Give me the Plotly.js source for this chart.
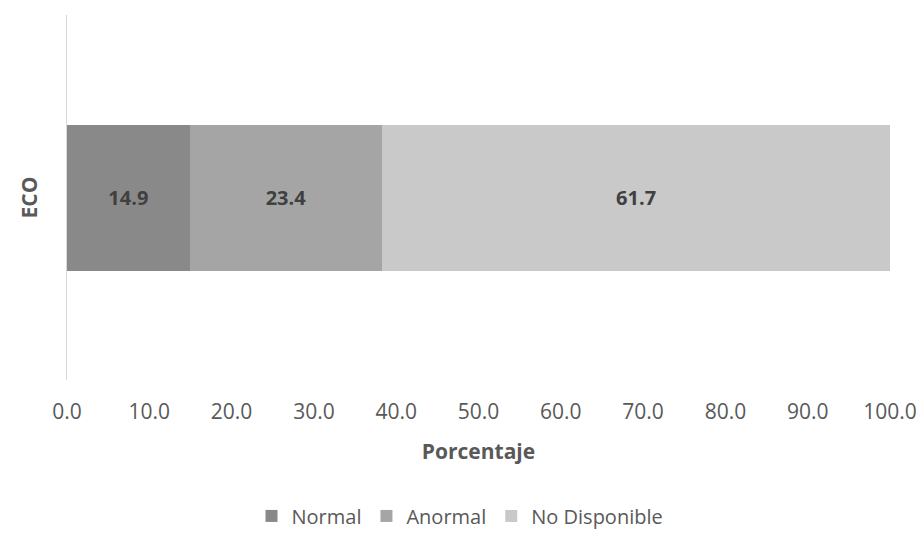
<!DOCTYPE html>
<html>
<head>
<meta charset="utf-8">
<script src="https://cdn.plot.ly/plotly-3.0.1.min.js"></script>
<style>
  html, body { margin: 0; padding: 0; background: #fff; }
  #chart { width: 920px; height: 533px; }
</style>
</head>
<body>
<div id="chart"></div>
<script>
// Distribution of ECO results (percent)
const categories = ['ECO'];
const seriesNames = ['Normal', 'Anormal', 'No Disponible'];
const normalValues = [14.9];
const anormalValues = [23.4];
const noDisponibleValues = [61.7];
const seriesColors = ['#898989', '#a5a5a5', '#c9c9c9'];
const xTickValues = [0, 10, 20, 30, 40, 50, 60, 70, 80, 90, 100];

const FONT = '"Open Sans", "Noto Sans", sans-serif';
const TEXT = '#595959';

const seriesValues = [normalValues, anormalValues, noDisponibleValues];

const traces = seriesNames.map((name, i) => ({
  type: 'bar',
  orientation: 'h',
  name: name,
  y: categories,
  x: seriesValues[i],
  marker: { color: seriesColors[i], line: { width: 0 } },
  width: 0.4,
  text: seriesValues[i].map(v => v.toFixed(1)),
  texttemplate: '<b>%{text}</b>',
  textposition: 'inside',
  insidetextanchor: 'middle',
  insidetextfont: { family: FONT, size: 20, color: '#404040' },
  hoverinfo: 'name+x'
}));

const layout = {
  width: 920,
  height: 533,
  barmode: 'stack',
  bargap: 0.6,
  paper_bgcolor: '#ffffff',
  plot_bgcolor: '#ffffff',
  margin: { l: 67, r: 30, t: 15, b: 153 },
  font: { family: FONT, color: TEXT, size: 20 },
  xaxis: {
    range: [0, 100],
    tickvals: xTickValues,
    tickformat: '.1f',
    showgrid: false,
    zeroline: false,
    showline: false,
    ticks: '',
    ticklabelstandoff: 17,
    tickfont: { family: FONT, size: 21, color: TEXT },
    title: {
      text: '<b>Porcentaje</b>',
      font: { family: FONT, size: 21, color: TEXT },
      standoff: 20
    },
    fixedrange: true
  },
  yaxis: {
    type: 'category',
    range: [-0.5, 0.5],
    showticklabels: false,
    showgrid: false,
    zeroline: false,
    showline: true,
    linecolor: '#d9d9d9',
    linewidth: 1.5,
    ticks: '',
    title: {
      text: '<b>ECO</b>',
      font: { family: FONT, size: 21, color: TEXT },
      standoff: 22
    },
    fixedrange: true
  },
  showlegend: true,
  legend: {
    orientation: 'h',
    x: 0.5,
    xanchor: 'center',
    xref: 'container',
    y: 0.032,
    yref: 'container',
    yanchor: 'middle',
    traceorder: 'normal',
    font: { family: FONT, size: 20, color: TEXT },
    itemwidth: 30,
    bgcolor: 'rgba(0,0,0,0)'
  }
};

Plotly.newPlot('chart', traces, layout, { displayModeBar: false, staticPlot: true });
</script>
</body>
</html>
